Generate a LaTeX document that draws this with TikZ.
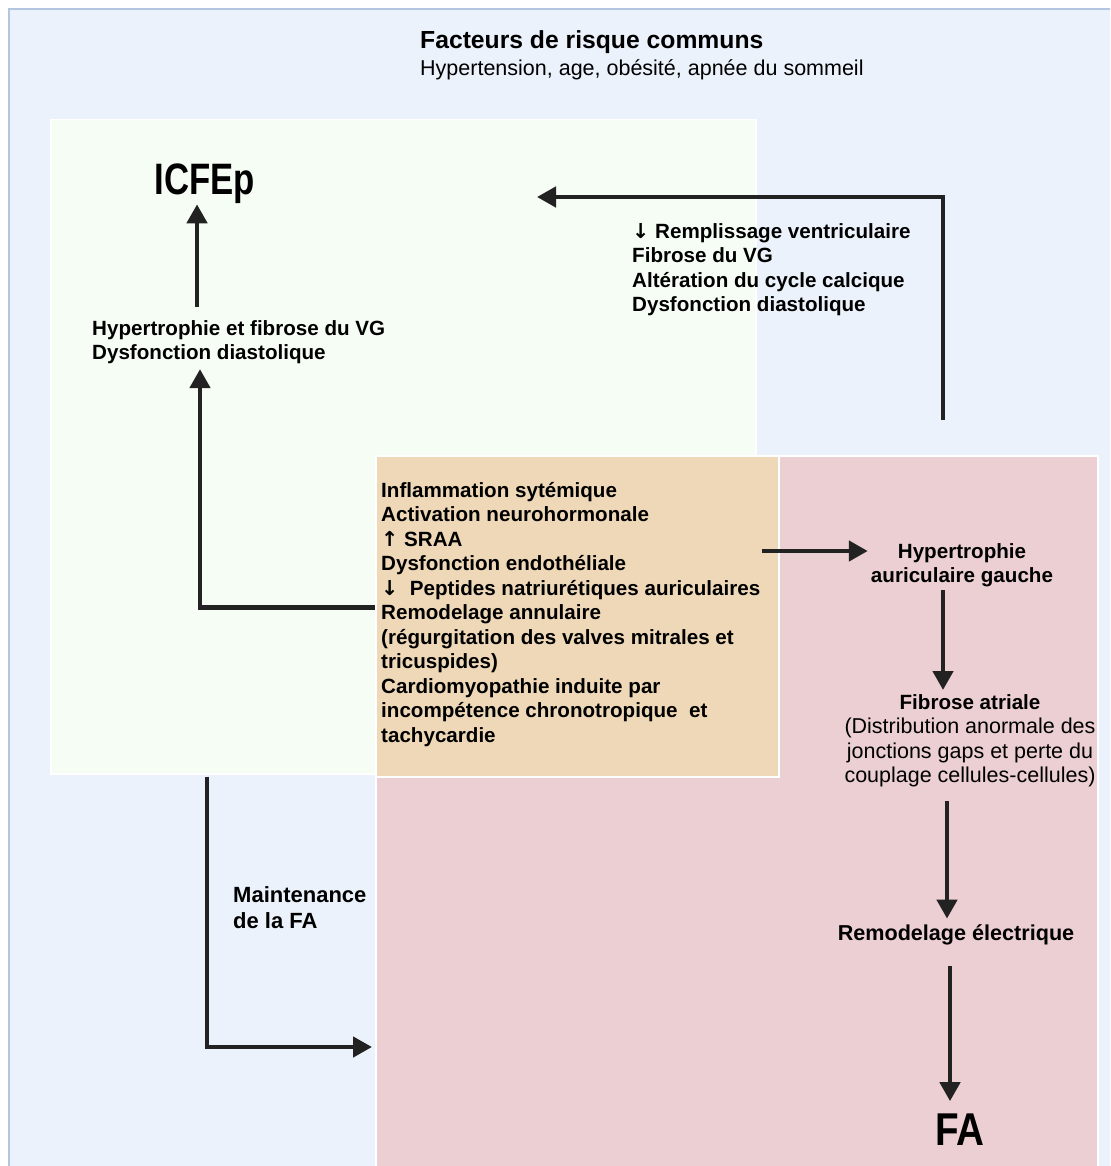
\documentclass[tikz,border=0pt]{standalone}
\usepackage{fontspec}
\setmainfont{Liberation Sans}
\newfontfamily\arrowfont{DejaVu Sans}
\usepackage{graphicx}
\usetikzlibrary{arrows.meta,calc}

\definecolor{framefill}{HTML}{ECF2FB}
\definecolor{frameline}{HTML}{B4C5DF}
\definecolor{hfpeffill}{HTML}{F6FDF4}
\definecolor{affill}{HTML}{EBCFD2}
\definecolor{commonfill}{HTML}{EED8B7}
\definecolor{arrowcol}{HTML}{222222}
\newcommand\regtxt{\mdseries\fontsize{21.5}{24}\selectfont}

\begin{document}
\begin{tikzpicture}[x=1pt, y=-1pt,
  region/.style={draw=white, line width=1.5pt, anchor=north west, inner sep=0},
  bodytxt/.style={font=\bfseries\fontsize{20.6}{24.5}\selectfont, inner sep=0, align=left},
  bigtxt/.style={font=\bfseries\fontsize{44}{48}\selectfont, inner sep=0},
  flow/.style={arrows={-Triangle[width=20pt,length=19pt]}, line width=4.5pt, draw=arrowcol}]

\useasboundingbox (0,0) rectangle (1110,1166);
\clip (0,0) rectangle (1110,1166);
\fill[white] (0,0) rectangle (1110,1166);
\draw[frameline, fill=framefill, line width=1.5pt] (9,9) rectangle (1130,1190);

%coloured areas
\node[region, fill=hfpeffill, minimum width=705, minimum height=654] (greenbox) at (50,119) {};
\node[region, fill=affill, minimum width=722, minimum height=730] (pinkbox) at (375,455) {};
\node[region, fill=commonfill, minimum width=403, minimum height=321] (causesbox) at (375,455) {};

\node[anchor=base west, inner sep=0, font=\bfseries\fontsize{24.7}{28}\selectfont] (title) at (420,49) {Facteurs de risque communs};
\node[anchor=base west, inner sep=0, font=\regtxt] (risks) at ($(title.base west)+(0,27)$) {Hypertension, age, obésité, apnée du sommeil};

\node[bigtxt, anchor=base] (icfep) at (205,195) {\scalebox{0.79}[1]{ICFEp}};
\node[bodytxt, anchor=north west] (hvg) at (92,320) {Hypertrophie et fibrose du VG\\Dysfonction diastolique};
\node[bodytxt, anchor=north west] (remp) at (632,223) {{\arrowfont↓} Remplissage ventriculaire\\Fibrose du VG\\Altération du cycle calcique\\Dysfonction diastolique};
\node[bodytxt, anchor=north west] (causes) at (381,482) {Inflammation sytémique\\Activation neurohormonale\\{\arrowfont↑} SRAA\\Dysfonction endothéliale\\{\arrowfont↓}\ \ Peptides natriurétiques auriculaires\\Remodelage annulaire\\(régurgitation des valves mitrales et\\tricuspides)\\Cardiomyopathie induite par\\incompétence chronotropique\ \ et\\tachycardie};

\node[bodytxt, align=center] (hag) at (962,565) {Hypertrophie\\auriculaire gauche};
\node[bodytxt, align=center, anchor=north] (fibat) at (970,694) {Fibrose atriale\\{\regtxt (Distribution anormale des}\\{\regtxt jonctions gaps et perte du}\\{\regtxt couplage cellules-cellules)}};
\node[bodytxt, font=\bfseries\fontsize{21.6}{25}\selectfont] (remel) at (956,935) {Remodelage électrique};
\node[bigtxt, font=\bfseries\fontsize{46}{50}\selectfont, anchor=base] (fa) at (960,1145) {\scalebox{0.84}[1]{FA}};
\node[bodytxt, font=\bfseries\fontsize{22}{26}\selectfont, anchor=west] (maint) at (233,908) {Maintenance\\de la FA};

%left branch to ICFEp
\draw[flow] ($(hvg.north -| icfep.south)+(-8,-13)$) -- ($(icfep.south)+(-8,0)$);
\draw[flow] ($(causesbox.west)+(0,-9)$) -| ($(hvg.south -| icfep.south)+(-5,5)$);

%FA back to ICFEp
\coordinate (fbstart) at (943,420);
\coordinate (fbend) at (537,197);
\draw[flow] (fbstart) |- (fbend);

%right branch to FA
\draw[flow] ($(hag.west -| causes.east)+(2,-14)$) -- ($(hag.west)+(-3,-14)$);
\draw[flow] ($(hag.south)+(-19,3)$) -- ($(fibat.north)+(-27,-4)$);
\draw[flow] ($(fibat.south)+(-23,14)$) -- ($(remel.north)+(-9,-6)$);
\draw[flow] ($(remel.south)+(-6,21)$) -- ($(fa.north)+(-10,-12)$);

%ICFEp maintains FA
\coordinate (maintend) at (372,1047);
\draw[flow] ($(greenbox.south west)+(157,2)$) |- (maintend);

\end{tikzpicture}
\end{document}
